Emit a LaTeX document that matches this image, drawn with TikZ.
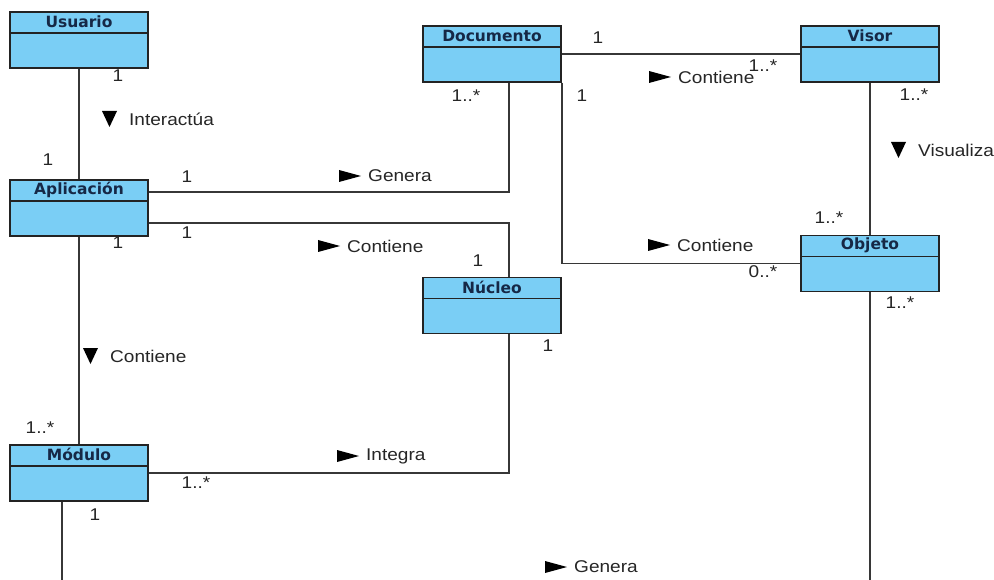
\documentclass[tikz,border=0pt]{standalone}
\usepackage{fontspec}
\setmainfont{Liberation Sans}[FakeStretch=1.12]
\newfontfamily\hdrfont{DejaVu Sans}
\usetikzlibrary{calc}
\definecolor{clsfill}{RGB}{122,206,245}
\definecolor{clsline}{RGB}{35,35,35}
\definecolor{hdrtext}{RGB}{22,40,70}
\definecolor{conline}{RGB}{55,55,55}
\tikzset{
 cls/.style={draw=clsline, fill=clsfill, line width=1.5pt, minimum width=138pt, minimum height=56pt, inner sep=0pt,
   path picture={\draw[clsline,line width=1.5pt] ([yshift=-21pt]path picture bounding box.north west) -- ([yshift=-21pt]path picture bounding box.north east);}},
 hdr/.style={font=\hdrfont\bfseries\fontsize{15.5}{18}\selectfont, text=hdrtext, inner sep=0pt},
 mult/.style={font=\fontsize{17}{20}\selectfont, inner sep=0pt, text=black!85},
 lbl/.style={font=\fontsize{17}{20}\selectfont, inner sep=0pt, anchor=west, text=black!85},
 con/.style={draw=conline, line width=1.6pt},
}
\newcommand\assocR[3]{\node[lbl] (#1) at (#2) {#3};
  \fill ([xshift=-7pt]#1.west) -- ++(-22pt,6pt) -- ++(0pt,-12pt) -- cycle;}
\newcommand\assocD[3]{\node[lbl] (#1) at (#2) {#3};
  \fill ([xshift=-12pt,yshift=8pt]#1.west) -- ++(-15pt,0pt) -- ++(7.5pt,-16pt) -- cycle;}
\begin{document}
\begin{tikzpicture}[x=1pt,y=-1pt]
\useasboundingbox (0,0) rectangle (994,580);
\clip (0,0) rectangle (994,580);
\fill[white] (0,0) rectangle (994,580);

% classes
\node[cls] (usuario) at (79,40) {};
\node[hdr] (usuario-h) at ([yshift=-10.5pt]usuario.north) {Usuario};
\node[cls] (aplicacion) at (79,208) {};
\node[hdr] (aplicacion-h) at ([yshift=-10.5pt]aplicacion.north) {Aplicación};
\node[cls] (modulo) at (79,473) {};
\node[hdr] (modulo-h) at ([yshift=-10.5pt]modulo.north) {Módulo};
\node[cls] (documento) at (492,54) {};
\node[hdr] (documento-h) at ([yshift=-10.5pt]documento.north) {Documento};
\node[cls] (nucleo) at (492,305.5) {};
\node[hdr] (nucleo-h) at ([yshift=-10.5pt]nucleo.north) {Núcleo};
\node[cls] (visor) at (870,54) {};
\node[hdr] (visor-h) at ([yshift=-10.5pt]visor.north) {Visor};
\node[cls] (objeto) at (870,263.5) {};
\node[hdr] (objeto-h) at ([yshift=-10.5pt]objeto.north) {Objeto};
\coordinate (gbot) at (470,600);

% connectors
\draw[con] (usuario.south) -- (aplicacion.north);
\draw[con] ([yshift=-13pt]aplicacion.north east) -| ([xshift=17pt]documento.south);
\draw[con] ([yshift=14pt]aplicacion.south east) -| ([xshift=17pt]nucleo.north);
\draw[con] (documento.east) -- (visor.west);
\draw[con] (documento.south east) |- (objeto.west);
\draw[con] (visor.south) -- (objeto.north);
\draw[con] (aplicacion.south) -- (modulo.north);
\draw[con] ([xshift=17pt]nucleo.south) |- (modulo.east);
\draw[con] ([xshift=-17pt]modulo.south) |- (gbot) -| (objeto.south);

% multiplicities
\node[mult] (m1) at (118,76) {1};
\node[mult] (m2) at (48,160) {1};
\node[mult] (m3) at (187,177) {1};
\node[mult] (m4) at (466,96) {1..*};
\node[mult] (m5) at (187,233) {1};
\node[mult] (m6) at (478,261) {1};
\node[mult] (m7) at (598,38) {1};
\node[mult] (m8) at (763,66) {1..*};
\node[mult] (m9) at (582,96) {1};
\node[mult] (m10) at (763,272) {0..*};
\node[mult] (m11) at (914,95) {1..*};
\node[mult] (m12) at (829,218) {1..*};
\node[mult] (m13) at (900,303) {1..*};
\node[mult] (m14) at (118,243) {1};
\node[mult] (m15) at (40,428) {1..*};
\node[mult] (m16) at (548,346) {1};
\node[mult] (m17) at (196,483) {1..*};
\node[mult] (m18) at (95,515) {1};

% association names
\assocD{l1}{129,119}{Interactúa}
\assocR{l2}{368,176}{Genera}
\assocR{l3}{347,246}{Contiene}
\assocR{l4}{678,77}{Contiene}
\assocR{l5}{677,245}{Contiene}
\assocD{l6}{918,150}{Visualiza}
\assocD{l7}{110,356}{Contiene}
\assocR{l8}{366,456}{Integra}
\assocR{l9}{574,567}{Genera}
\end{tikzpicture}
\end{document}
